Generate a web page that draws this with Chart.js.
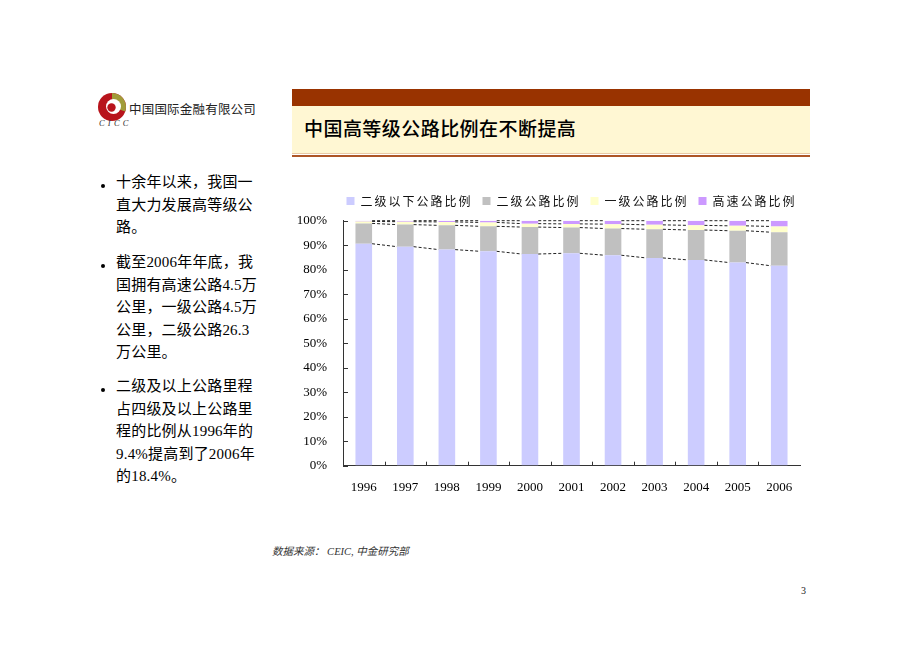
<!DOCTYPE html>
<html>
<head>
<meta charset="utf-8">
<script src="https://cdn.jsdelivr.net/npm/chart.js@4"></script>
<style>
  html, body { margin: 0; padding: 0; background: #fff; }
  body { width: 920px; height: 651px; position: relative; overflow: hidden; }
  .abs { position: absolute; }
  .cjk { font-family: "Liberation Serif", "Noto Sans CJK SC", serif; }
  .bul { left: 116px; font-size: 15px; line-height: 22.5px; color: #000; white-space: nowrap; letter-spacing: 0.2px; }
  .dot { width: 4px; height: 4px; border-radius: 50%; background: #000; left: 101px; }
</style>
</head>
<body>
<!-- logo -->
<svg class="abs" style="left:97px;top:92px" width="30" height="30" viewBox="0 0 30 30">
  <circle cx="15" cy="15" r="14" fill="#B8141C"/>
  <path d="M15 1 A14 14 0 0 1 28.2 19.5 L21 17 A7 7 0 0 0 15 8 Z" fill="#A19C3A"/>
  <circle cx="16.5" cy="14.5" r="7.5" fill="#fff"/>
  <circle cx="14.5" cy="15.5" r="4.2" fill="#B8141C"/>
</svg>
<div class="abs" style="left:99px;top:118px;font-family:'Liberation Serif',serif;font-style:italic;font-size:8.5px;letter-spacing:3.2px;color:#333;">CICC</div>
<div class="abs cjk" style="left:129px;top:99px;font-size:12.5px;color:#222;letter-spacing:0.2px;">中国国际金融有限公司</div>

<!-- title bar -->
<div class="abs" style="left:292px;top:89px;width:518px;height:17px;background:#993300;"></div>
<div class="abs" style="left:292px;top:106px;width:518px;height:47px;background:#FFF7D3;"></div>
<div class="abs" style="left:292px;top:153px;width:518px;height:1px;background:#E9C9A5;"></div>
<div class="abs" style="left:292px;top:155px;width:518px;height:2px;background:#AE5627;"></div>
<div class="abs cjk" style="left:304px;top:118px;font-size:19px;line-height:24px;font-weight:500;letter-spacing:0.45px;color:#000;">中国高等级公路比例在不断提高</div>

<!-- bullets -->
<div class="abs dot" style="top:184px"></div>
<div class="abs cjk bul" style="top:171px">十余年以来，我国一<br>直大力发展高等级公<br>路。</div>
<div class="abs dot" style="top:264px"></div>
<div class="abs cjk bul" style="top:251px">截至2006年年底，我<br>国拥有高速公路4.5万<br>公里，一级公路4.5万<br>公里，二级公路26.3<br>万公里。</div>
<div class="abs dot" style="top:388px"></div>
<div class="abs cjk bul" style="top:375px">二级及以上公路里程<br>占四级及以上公路里<br>程的比例从1996年的<br>9.4%提高到了2006年<br>的18.4%。</div>

<!-- chart -->
<canvas id="c" class="abs" style="left:290px;top:185px" width="520" height="320"></canvas>

<!-- source & page -->
<div class="abs cjk" style="left:272px;top:543px;font-size:10.5px;font-style:italic;color:#333;">数据来源： CEIC, 中金研究部</div>
<div class="abs" style="left:801px;top:585px;font-family:'Liberation Serif',serif;font-size:10px;color:#222;">3</div>

<script>
const years = ['1996','1997','1998','1999','2000','2001','2002','2003','2004','2005','2006'];
const belowGrade2 = [90.6, 89.4, 88.2, 87.5, 86.4, 86.7, 85.9, 84.8, 84.0, 82.9, 81.6];
const grade2      = [8.3, 9.0, 9.9, 10.2, 11.0, 10.5, 10.9, 11.7, 12.2, 13.0, 13.7];
const grade1      = [0.8, 1.2, 1.4, 1.6, 1.4, 1.5, 1.8, 1.8, 1.9, 2.0, 2.35];
const expressway  = [0.3, 0.4, 0.5, 0.7, 1.2, 1.3, 1.4, 1.7, 1.9, 2.1, 2.35];
const seriesNames = ['二级以下公路比例', '二级公路比例', '一级公路比例', '高速公路比例'];
const yTicks = [0,10,20,30,40,50,60,70,80,90,100];

const LEG_SPACING = '2.0px';

const legendTweaks = {
  id: 'legendTweaks',
  afterInit(chart) {
    const lg = chart.legend;
    if (!lg) return;
    const proto = Object.getPrototypeOf(lg);
    lg.fit = function () {
      const c = this.ctx;
      c.save();
      c.letterSpacing = LEG_SPACING;
      this.maxWidth = 2000;
      proto.fit.call(this);
      c.restore();
      this.height = 35.7;
    };
    lg.draw = function () {
      const c = this.ctx;
      c.save();
      c.letterSpacing = LEG_SPACING;
      proto.draw.call(this);
      c.restore();
    };
  },
  afterLayout(chart) {
    const lg = chart.legend, a = chart.chartArea;
    if (!lg) return;
    const cx = (a.left + a.right) / 2, half = 600;
    lg.left = cx - half; lg.right = cx + half; lg.width = 2 * half;
  }
};

const seriesLines = {
  id: 'seriesLines',
  afterDatasetsDraw(chart) {
    const ctx = chart.ctx;
    ctx.save();
    ctx.strokeStyle = '#222';
    ctx.lineWidth = 1;
    ctx.setLineDash([3, 2]);
    chart.data.datasets.forEach((ds, d) => {
      const meta = chart.getDatasetMeta(d);
      for (let i = 0; i < meta.data.length - 1; i++) {
        const a = meta.data[i], b = meta.data[i + 1];
        ctx.beginPath();
        ctx.moveTo(a.x + a.width / 2, a.y);
        ctx.lineTo(b.x - b.width / 2, b.y);
        ctx.stroke();
      }
    });
    ctx.restore();
  }
};

const innerTicks = {
  id: 'innerTicks',
  afterDraw(chart) {
    const ctx = chart.ctx, a = chart.chartArea;
    const xs = chart.scales.x, ys = chart.scales.y;
    ctx.save();
    ctx.strokeStyle = '#333';
    ctx.lineWidth = 1;
    yTicks.forEach(v => {
      const y = Math.round(ys.getPixelForValue(v)) + 0.5;
      ctx.beginPath(); ctx.moveTo(a.left, y); ctx.lineTo(a.left + 5, y); ctx.stroke();
    });
    for (let i = 0; i < years.length - 1; i++) {
      const x = Math.round((xs.getPixelForValue(i) + xs.getPixelForValue(i + 1)) / 2) + 0.5;
      ctx.beginPath(); ctx.moveTo(x, a.bottom); ctx.lineTo(x, a.bottom - 4); ctx.stroke();
    }
    ctx.restore();
  }
};

const colors = ['#CCCCFF', '#C0C0C0', '#FFFFCC', '#CC99FF'];
const values = [belowGrade2, grade2, grade1, expressway];

new Chart(document.getElementById('c'), {
  type: 'bar',
  data: {
    labels: years,
    datasets: values.map((v, k) => ({
      label: seriesNames[k],
      data: v,
      backgroundColor: colors[k],
      borderWidth: 0,
      categoryPercentage: 1.0,
      barPercentage: 0.4
    }))
  },
  options: {
    responsive: false,
    animation: false,
    devicePixelRatio: 1,
    layout: { padding: { left: 0, right: 10, top: 0, bottom: 0 } },
    plugins: {
      legend: {
        position: 'top',
        align: 'center',
        labels: {
          boxWidth: 8, boxHeight: 8, padding: 10,
          color: '#111',
          font: { family: '"Noto Sans CJK SC", sans-serif', size: 12 }
        }
      },
      tooltip: { enabled: false }
    },
    scales: {
      x: {
        stacked: true,
        grid: { display: true, drawOnChartArea: false, drawTicks: false },
        border: { display: true, color: '#333', width: 1 },
        ticks: { color: '#000', padding: 14.5, maxRotation: 0, autoSkip: false,
                 font: { family: '"Liberation Serif", serif', size: 13 } },
        afterFit(s) { s.height = 39.3; }
      },
      y: {
        stacked: true,
        min: 0, max: 100,
        afterBuildTicks(s) { s.ticks = yTicks.map(v => ({ value: v })); },
        grid: { display: true, drawOnChartArea: false, drawTicks: false },
        border: { display: true, color: '#333', width: 1 },
        ticks: { color: '#000', padding: 16,
                 font: { family: '"Liberation Serif", serif', size: 13 },
                 callback: v => v + '%' },
        afterFit(s) { s.width = 53; }
      }
    }
  },
  plugins: [legendTweaks, seriesLines, innerTicks]
});
</script>
</body>
</html>
